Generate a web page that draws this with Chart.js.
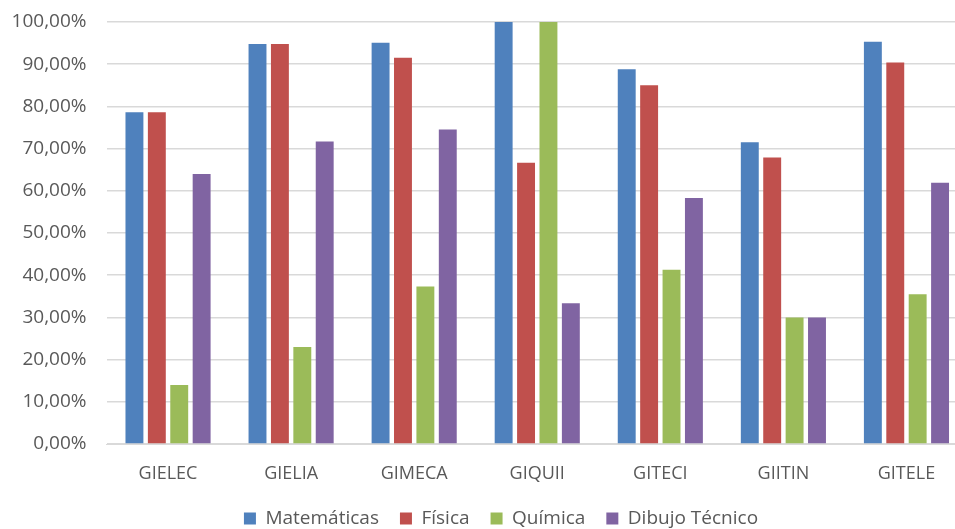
<!DOCTYPE html>
<html>
<head>
<meta charset="utf-8">
<script src="https://cdn.jsdelivr.net/npm/chart.js@4.4.1/dist/chart.umd.min.js"></script>
<style>
html,body{margin:0;padding:0;background:#fff;overflow:hidden;}
#wrap{width:968px;height:538px;position:relative;}
</style>
</head>
<body>
<div id="wrap"><canvas id="c" width="968" height="538"></canvas></div>
<script>
const categories = ['GIELEC','GIELIA','GIMECA','GIQUII','GITECI','GIITIN','GITELE'];
const matematicas = [78.6, 94.8, 95.1, 100, 88.8, 71.5, 95.3];
const fisica = [78.6, 94.8, 91.5, 66.67, 85.0, 67.9, 90.4];
const quimica = [14.0, 23.0, 37.3, 100, 41.3, 30.0, 35.5];
const dibujo = [64.0, 71.7, 74.5, 33.33, 58.3, 30.0, 61.9];
const seriesNames = ['Matemáticas','Física','Química','Dibujo Técnico'];
const colors = ['#4F81BD','#C0504D','#9BBB59','#8064A2'];
const yMin = 0, yMax = 100, yStep = 10;

const FONT = "'Open Sans', sans-serif";
const TXT = '#595959';

const legendShift = {
  id: 'legendShift',
  afterLayout(chart) {
    if (chart.legend) { chart.legend.left += 17; chart.legend.right += 17; }
  }
};

new Chart(document.getElementById('c'), {
  type: 'bar',
  data: {
    labels: categories,
    datasets: [matematicas, fisica, quimica, dibujo].map((d, i) => ({
      label: seriesNames[i],
      data: d,
      backgroundColor: colors[i],
      borderWidth: 0,
      categoryPercentage: 0.728,
      barPercentage: 0.80
    }))
  },
  plugins: [legendShift],
  options: {
    responsive: false,
    animation: false,
    devicePixelRatio: 1,
    layout: { padding: { top: 22, left: 0, right: 0, bottom: 0 } },
    plugins: {
      tooltip: { enabled: false },
      legend: {
        position: 'bottom',
        labels: {
          boxWidth: 12, boxHeight: 12, padding: 21,
          color: TXT,
          font: { family: FONT, size: 19 }
        }
      }
    },
    scales: {
      x: {
        grid: { display: false, drawTicks: false },
        border: { display: true, color: '#d9d9d9', width: 1 },
        ticks: { color: TXT, font: { family: FONT, size: 18 }, padding: 19, maxRotation: 0 },
        afterFit: s => { s.height = 44; }
      },
      y: {
        min: yMin, max: yMax,
        grid: { color: '#d9d9d9', lineWidth: 1.5, drawTicks: true, tickLength: 20, tickColor: 'rgba(0,0,0,0)' },
        border: { display: false },
        ticks: {
          stepSize: yStep, color: TXT, padding: 0,
          font: { family: FONT, size: 19 },
          callback: v => v.toFixed(2).replace('.', ',') + '%'
        },
        afterFit: s => { s.width = 106.5; }
      }
    }
  }
});
</script>
</body>
</html>
